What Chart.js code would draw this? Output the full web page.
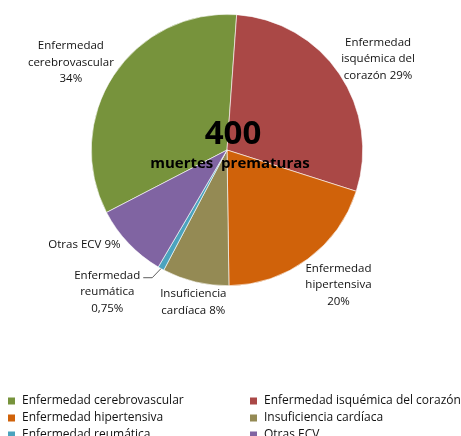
<!DOCTYPE html>
<html><head><meta charset="utf-8">
<script src="https://cdn.jsdelivr.net/npm/chart.js@4"></script>
<style>html,body{margin:0;padding:0;background:#fff}#wrap{width:461px;height:436px;position:relative}</style>
</head><body><div id="wrap"><canvas id="c" width="461" height="436"></canvas></div>
<script>
const categories = ['Enfermedad cerebrovascular','Enfermedad isquémica del corazón','Enfermedad hipertensiva','Insuficiencia cardíaca','Enfermedad reumática','Otras ECV'];
const values = [34, 29, 20, 8, 0.75, 9];
const pctLabels = ['34%','29%','20%','8%','0,75%','9%'];
const labelLines = [
  ['Enfermedad','cerebrovascular','34%'],
  ['Enfermedad','isquémica del','corazón 29%'],
  ['Enfermedad','hipertensiva','20%'],
  ['Insuficiencia','cardíaca 8%'],
  ['Enfermedad','reumática','0,75%'],
  ['Otras ECV 9%']
];
const centerTitle = '400';
const centerSub = 'muertes  prematuras';
const colors = ['#77933C','#AA4846','#D0620A','#948A54','#4BA3BE','#8064A2'];
// label placement: [distance factor of radius, angle nudge in degrees, dx, dy]
const labelPlace = [[1.32,-4,0,0],[1.30,3,0,0],[1.29,-3,0,0],[1.15,-1,0,0],[1.37,11,0,0],[1.26,10,0,0]];

const FONT = '"Open Sans", "Noto Sans", sans-serif';
const labelsPlugin = {
  id:'lbls',
  afterDatasetsDraw(chart){
    const ctx = chart.ctx;
    const meta = chart.getDatasetMeta(0);
    ctx.save();
    ctx.fillStyle = '#111';
    ctx.font = '11.5px ' + FONT;
    ctx.textAlign = 'center';
    ctx.textBaseline = 'middle';
    meta.data.forEach((arc, i) => {
      const mid = (arc.startAngle + arc.endAngle)/2 + labelPlace[i][1]*Math.PI/180;
      const d = arc.outerRadius * labelPlace[i][0];
      const cx = arc.x + Math.cos(mid)*d + labelPlace[i][2];
      const cy = arc.y + Math.sin(mid)*d + labelPlace[i][3];
      const lines = labelLines[i];
      const lh = 16.5;
      const y0 = cy - (lines.length-1)*lh/2;
      lines.forEach((t, k) => ctx.fillText(t, cx, y0 + k*lh));
      if (i === 4) {
        const ma = (arc.startAngle + arc.endAngle)/2;
        const ex = arc.x + Math.cos(ma)*arc.outerRadius;
        const ey = arc.y + Math.sin(ma)*arc.outerRadius;
        ctx.strokeStyle = '#333'; ctx.lineWidth = 0.8;
        ctx.beginPath();
        ctx.moveTo(cx + 36, y0 + 2);
        ctx.lineTo(cx + 45, y0 + 2);
        ctx.lineTo(ex, ey);
        ctx.stroke();
      }
    });
    const a0 = meta.data[0];
    ctx.fillStyle = '#000';
    ctx.font = 'bold 33px ' + FONT;
    ctx.fillText(centerTitle, a0.x + 6, a0.y - 15);
    ctx.font = 'bold 15px ' + FONT;
    ctx.fillText(centerSub, a0.x + 3, a0.y + 14);
    ctx.restore();
  }
};
const legendPlugin = {
  id:'lgd',
  afterDraw(chart){
    const ctx = chart.ctx;
    ctx.save();
    ctx.font = '12px ' + FONT;
    ctx.textBaseline = 'middle';
    ctx.textAlign = 'left';
    categories.forEach((c, i) => {
      const col = i % 2, row = Math.floor(i/2);
      const x = col === 0 ? 8 : 250;
      const y = 401 + row*17;
      ctx.fillStyle = colors[i];
      ctx.fillRect(x, y-3.5, 7, 7);
      ctx.fillStyle = '#111';
      ctx.fillText(c, x + 14, y);
    });
    ctx.restore();
  }
};

new Chart(document.getElementById('c'), {
  type:'pie',
  data:{ labels: categories, datasets:[{ data: values, backgroundColor: colors, borderColor:'#fff', borderWidth:0.6 }]},
  options:{
    responsive:false, animation:false,
    rotation: 242.6,
    layout:{ padding:{ top:14, left:91, right:98, bottom:150 } },
    plugins:{ legend:{display:false}, tooltip:{enabled:false} }
  },
  plugins:[labelsPlugin, legendPlugin]
});
</script></body></html>
